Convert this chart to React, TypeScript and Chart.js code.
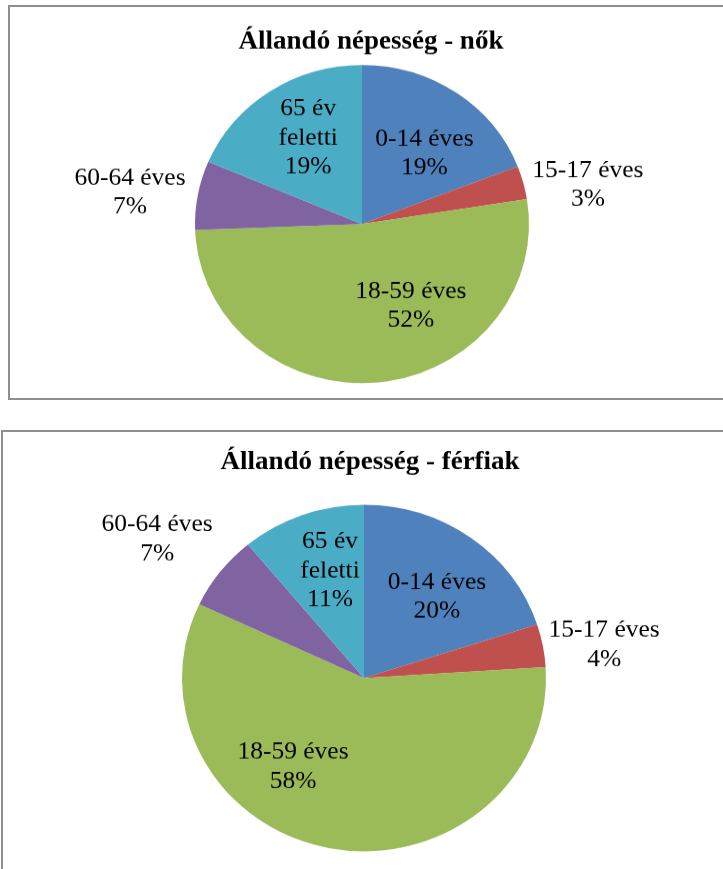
import React, { useEffect, useRef } from "react";
import { Chart, registerables } from "chart.js";

Chart.register(...registerables);

const categories = ["0-14 éves", "15-17 éves", "18-59 éves", "60-64 éves", "65 év feletti"];
const labelLines = [["0-14 éves"], ["15-17 éves"], ["18-59 éves"], ["60-64 éves"], ["65 év", "feletti"]];
const womenValues = [19.1, 3.4, 51.9, 7.0, 18.6];
const menValues = [20.0, 4.0, 58.0, 7.0, 11.0];
const sliceColors = ["#4F81BD", "#C0504D", "#9BBB59", "#8064A2", "#4BACC6"];
const womenTitle = "Állandó népesség - nők";
const menTitle = "Állandó népesség - férfiak";

// label placement (radial factor of the radius, angular shift from slice middle in degrees)
const womenLabelRadius = [0.58, 1.375, 0.593, 1.403, 0.63];
const womenLabelShift = [5.7, 4.8, -24, -2.4, 2.7];
const menLabelRadius = [0.616, 1.333, 0.645, 1.389, 0.646];
const menLabelShift = [4.6, 2.6, 26.4, -2.7, 3.0];

const SY = 0.95238; // vertical squash of the original picture
const LABEL_FONT = "25.5px 'Liberation Serif', 'Times New Roman', serif";
const TITLE_FONT = "bold 27px 'Liberation Serif', 'Times New Roman', serif";
const LINE_H = 30.5;

type PieProps = {
  values: number[];
  title: string;
  radii: number[];
  shifts: number[];
  cssTop: number;
  cssHeight: number;
  pad: { left: number; right: number; top: number; bottom: number };
  titleX: number;
  titleY: number;
};

function PieChart(p: PieProps) {
  const ref = useRef<HTMLCanvasElement | null>(null);
  useEffect(() => {
    if (!ref.current) return;
    const total = p.values.reduce((a, b) => a + b, 0);
    const labelPlugin = {
      id: "pieLabels",
      afterDatasetsDraw(chart: any) {
        const ctx = chart.ctx as CanvasRenderingContext2D;
        const meta = chart.getDatasetMeta(0);
        ctx.save();
        ctx.fillStyle = "#000";
        ctx.textAlign = "center";
        ctx.textBaseline = "middle";
        ctx.font = LABEL_FONT;
        meta.data.forEach((arc: any, i: number) => {
          const { x, y, startAngle, endAngle, outerRadius } = arc.getProps(
            ["x", "y", "startAngle", "endAngle", "outerRadius"],
            true
          );
          const mid = (startAngle + endAngle) / 2 + (p.shifts[i] * Math.PI) / 180;
          const r = outerRadius * p.radii[i];
          const cx = x + Math.cos(mid) * r;
          const cy = y + Math.sin(mid) * r;
          const pct = Math.round((p.values[i] / total) * 100) + "%";
          const lines = [...labelLines[i], pct];
          const y0 = cy - ((lines.length - 1) / 2) * LINE_H;
          lines.forEach((t, k) => ctx.fillText(t, cx, y0 + k * LINE_H));
        });
        ctx.font = TITLE_FONT;
        ctx.fillText(p.title, p.titleX, p.titleY);
        ctx.restore();
      },
    };
    const chart = new Chart(ref.current, {
      type: "pie",
      data: {
        labels: categories,
        datasets: [
          {
            data: p.values,
            backgroundColor: sliceColors,
            borderWidth: 0,
          },
        ],
      },
      options: {
        responsive: false,
        animation: false,
        devicePixelRatio: 1,
        layout: { padding: p.pad },
        plugins: {
          legend: { display: false },
          title: { display: false },
          tooltip: { enabled: false },
        },
      },
      plugins: [labelPlugin],
    });
    return () => chart.destroy();
  }, []);
  const h = Math.round(p.cssHeight / SY);
  return (
    <canvas
      ref={ref}
      width={723}
      height={h}
      style={{
        position: "absolute",
        left: 0,
        top: p.cssTop,
        width: 723,
        height: p.cssHeight,
      }}
    />
  );
}

export default function App() {
  return (
    <div
      style={{
        position: "fixed",
        left: 0,
        top: 0,
        width: 723,
        height: 869,
        overflow: "hidden",
        background: "#fff",
      }}
    >
      <PieChart
        values={womenValues}
        title={womenTitle}
        radii={womenLabelRadius}
        shifts={womenLabelShift}
        cssTop={0}
        cssHeight={400}
        pad={{ left: 195, right: 194, top: 68.2, bottom: 17.8 }}
        titleX={371}
        titleY={44}
      />
      <PieChart
        values={menValues}
        title={menTitle}
        radii={menLabelRadius}
        shifts={menLabelShift}
        cssTop={430}
        cssHeight={439}
        pad={{ left: 182, right: 177, top: 78.4, bottom: 18.6 }}
        titleX={370}
        titleY={34}
      />
      <div
        style={{
          position: "absolute",
          left: 8,
          top: 5,
          width: 740,
          height: 391,
          border: "2px solid #8e8e8e",
          pointerEvents: "none",
        }}
      />
      <div
        style={{
          position: "absolute",
          left: 1,
          top: 430,
          width: 760,
          height: 500,
          border: "2px solid #8e8e8e",
          pointerEvents: "none",
        }}
      />
    </div>
  );
}
